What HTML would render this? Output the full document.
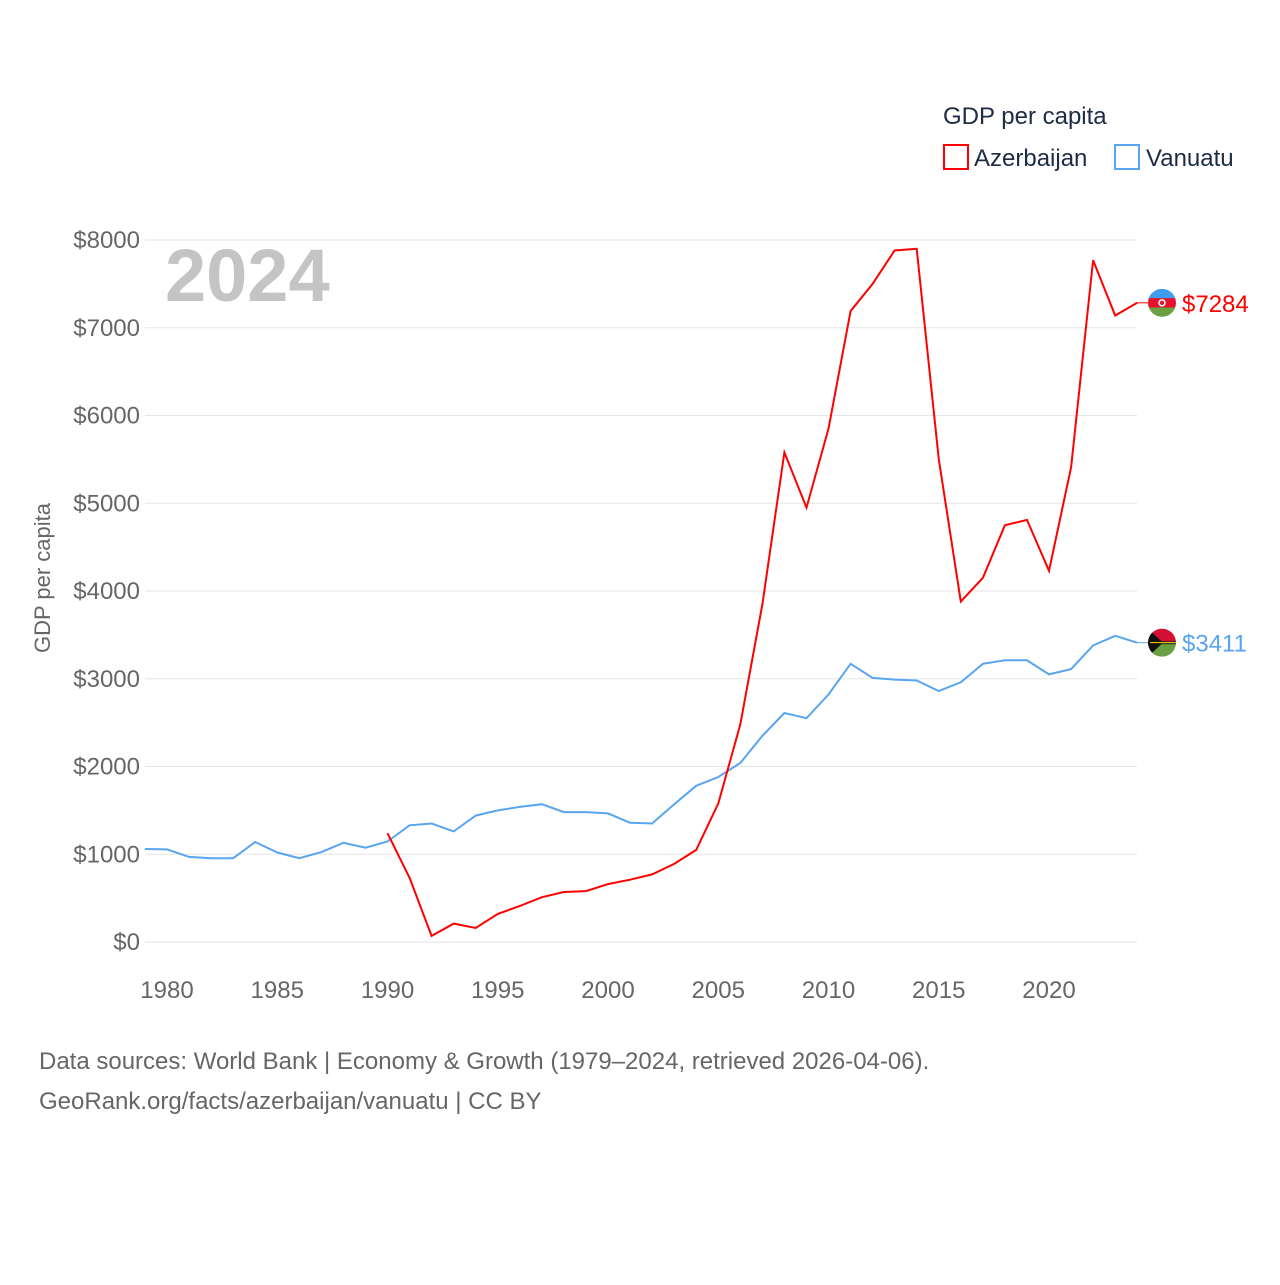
<!DOCTYPE html>
<html><head><meta charset="utf-8"><style>
body{margin:0;background:#fff;font-family:"Liberation Sans",sans-serif}
svg text{font-family:"Liberation Sans",sans-serif}
</style></head><body>
<svg id="chart" width="1280" height="1280" xmlns="http://www.w3.org/2000/svg">
<rect width="1280" height="1280" fill="#fff"/>
<text x="943" y="124" font-size="24" fill="#1d2b44">GDP per capita</text>
<g><rect x="944" y="145" width="24" height="24" fill="none" stroke="#f00" stroke-width="2"/><text x="974" y="166" font-size="24" fill="#1d2b44">Azerbaijan</text></g>
<g><rect x="1115" y="145" width="24" height="24" fill="none" stroke="#5aa5f0" stroke-width="2"/><text x="1146" y="166" font-size="24" fill="#1d2b44">Vanuatu</text></g>
<text x="165" y="301" font-size="74" font-weight="bold" fill="#c4c4c4">2024</text>
<g id="grid"></g><g id="yticks"></g><g id="xticks"></g><g id="series"></g>
<text transform="translate(50,578) rotate(-90)" text-anchor="middle" font-size="22" fill="#666">GDP per capita</text>
<text x="39" y="1069" font-size="24" fill="#666">Data sources: World Bank | Economy &amp; Growth (1979–2024, retrieved 2026-04-06).</text>
<text x="39" y="1109" font-size="24" fill="#666">GeoRank.org/facts/azerbaijan/vanuatu | CC BY</text>
</svg>
<script>
const years=[];for(let y=1979;y<=2024;y++)years.push(y);
const vanuatu=[1060,1055,970,955,955,1140,1020,955,1025,1130,1075,1145,1330,1350,1260,1440,1500,1540,1570,1480,1480,1465,1360,1350,1570,1780,1880,2040,2350,2610,2550,2820,3170,3010,2990,2980,2860,2960,3170,3210,3210,3050,3110,3380,3490,3411];
const azYears=[];for(let y=1990;y<=2024;y++)azYears.push(y);
const azerbaijan=[1240,730,70,210,160,320,410,510,570,580,660,710,770,890,1050,1580,2480,3850,5580,4950,5850,7190,7500,7880,7900,5500,3880,4150,4750,4810,4230,5410,7770,7140,7284];
const yTicks=[0,1000,2000,3000,4000,5000,6000,7000,8000];
const xTicks=[1980,1985,1990,1995,2000,2005,2010,2015,2020];
const NS='http://www.w3.org/2000/svg';
const X=y=>167+(y-1980)*22.05;
const Y=v=>942-v*0.08775;
function mk(t,a,p){const e=document.createElementNS(NS,t);for(const k in a)e.setAttribute(k,a[k]);p.appendChild(e);return e;}
const grid=document.getElementById('grid'),yt=document.getElementById('yticks'),xt=document.getElementById('xticks'),ser=document.getElementById('series');
yTicks.forEach(v=>{
 const l=mk('line',{x1:145,x2:1137,y1:Y(v),y2:Y(v),stroke:'#e6e6e6','stroke-width':1},grid);
 
 
 const t=mk('text',{x:140,y:Y(v)+8,'text-anchor':'end','font-size':24,fill:'#666'},yt);
 t.textContent='$'+v;
 
 
});
xTicks.forEach(v=>{
 const t=mk('text',{x:X(v),y:998,'text-anchor':'middle','font-size':24,fill:'#666'},xt);
 t.textContent=v;
 
 
});
function line(xs,vals,color,name,stripes,tri){
 const d=vals.map((v,i)=>(i?'L':'M')+X(xs[i]).toFixed(1)+','+Y(v).toFixed(1)).join('');
 const p=mk('path',{d:d,fill:'none',stroke:color,'stroke-width':2},ser);
 
 
 const last=vals[vals.length-1],ly=Y(last);
 mk('line',{x1:X(xs[xs.length-1]),y1:ly,x2:1148,y2:ly,stroke:color,'stroke-width':1},ser);
 const g=mk('g',{},ser);
 
 
 const cid='clip-'+name;
 const cp=mk('clipPath',{id:cid},g);mk('circle',{cx:1162,cy:ly,r:14},cp);
 const inner=mk('g',{'clip-path':'url(#'+cid+')'},g);
 const h=28/stripes.length;
 stripes.forEach((c,i)=>mk('rect',{x:1148,y:ly-14+i*h,width:28,height:h+0.5,fill:c},inner));
 if(tri){mk('rect',{x:1148,y:ly-1.5,width:28,height:3,fill:'#222'},inner);mk('polygon',{points:(1148)+','+(ly-14)+' '+(1163)+','+ly+' '+(1148)+','+(ly+14),fill:'#111'},inner);mk('line',{x1:1150,y1:ly,x2:1176,y2:ly,stroke:'#fd0','stroke-width':1},inner);}
 else{mk('circle',{cx:1162,cy:ly,r:3,fill:'none',stroke:'#fff','stroke-width':1.5},inner);}
 const t=mk('text',{x:1182,y:ly+9,'font-size':24,fill:color},ser);
 t.textContent='$'+last;
 
 
}
line(years,vanuatu,'#5aa5f0','vanuatu-line',['#d21034','#d21034','#6ba042','#6ba042'],true);
line(azYears,azerbaijan,'#f00','azerbaijan-line',['#3f9cf0','#e8112d','#6ba042'],false);
</script>
</body></html>
